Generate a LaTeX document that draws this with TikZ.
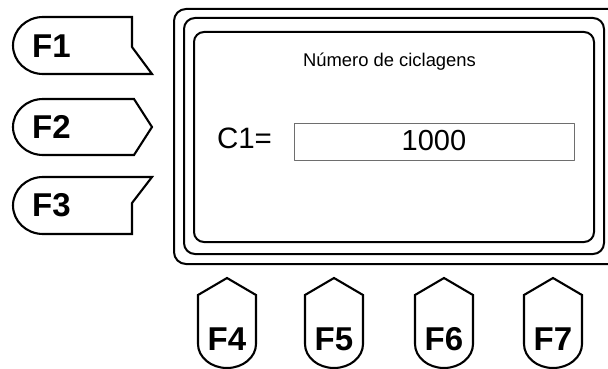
\documentclass[tikz,border=0pt]{standalone}
\usepackage{fontspec}
\setmainfont{Liberation Sans}
\definecolor{valgray}{RGB}{110,110,110}
\begin{document}
\begin{tikzpicture}[x=1pt,y=-1pt,line width=2pt,line join=round,
  fkey/.style={font=\bfseries\fontsize{33}{35}\selectfont,anchor=base,inner sep=0pt},
  frame/.style={draw=black,line width=2pt},
  keyshape/.style={draw=black,line width=2.1pt,line join=miter}]
\useasboundingbox (0,0) rectangle (608,369);
\clip (0,0) rectangle (608,369);
% screen frames
\draw[frame,rounded corners=12pt] (174,9) rectangle (622,264);
\draw[frame,rounded corners=11pt] (184,18) rectangle (604,254);
\draw[frame,rounded corners=10pt] (194,32) rectangle (594,242);
% texts on screen
\node[font=\fontsize{18.4}{20}\selectfont,anchor=base,inner sep=0pt] (title) at (389.5,66.7) {Número de ciclagens};
\node[font=\fontsize{29.5}{31}\selectfont,anchor=base west,inner sep=0pt] (c1) at (216,148) {C1=};
\node[draw=valgray,line width=1pt,minimum width=280pt,minimum height=37pt,inner sep=0pt] (val) at (434,141.5) {};
\node[font=\fontsize{29}{31}\selectfont,anchor=base,inner sep=0pt] (num) at (434,150) {1000};
% left keys
\draw[keyshape] (43,17) -- (132,17) -- (132,47) -- (152,74) -- (43,74)
  arc[start angle=90,end angle=270,x radius=30,y radius=28.5] -- cycle;
\draw[keyshape] (43,99) -- (134,99) -- (152,127) -- (134,155) -- (43,155)
  arc[start angle=90,end angle=270,x radius=30,y radius=28] -- cycle;
\draw[keyshape] (43,177) -- (152,177) -- (132,203) -- (132,234) -- (43,234)
  arc[start angle=90,end angle=270,x radius=30,y radius=28.5] -- cycle;
\node[fkey] (F1) at (51.5,58) {F1};
\node[fkey] (F2) at (51.5,138) {F2};
\node[fkey] (F3) at (51.5,216) {F3};
% bottom keys
\foreach \k/\cx in {4/227,5/334,6/444,7/553}{
  \draw[keyshape] (\cx,278) -- (\cx+29,295) -- (\cx+29,344)
    arc[start angle=0,end angle=180,x radius=29,y radius=24] -- (\cx-29,295) -- cycle;
  \node[fkey] (F\k) at (\cx,350) {F\k};
}
\end{tikzpicture}
\end{document}
